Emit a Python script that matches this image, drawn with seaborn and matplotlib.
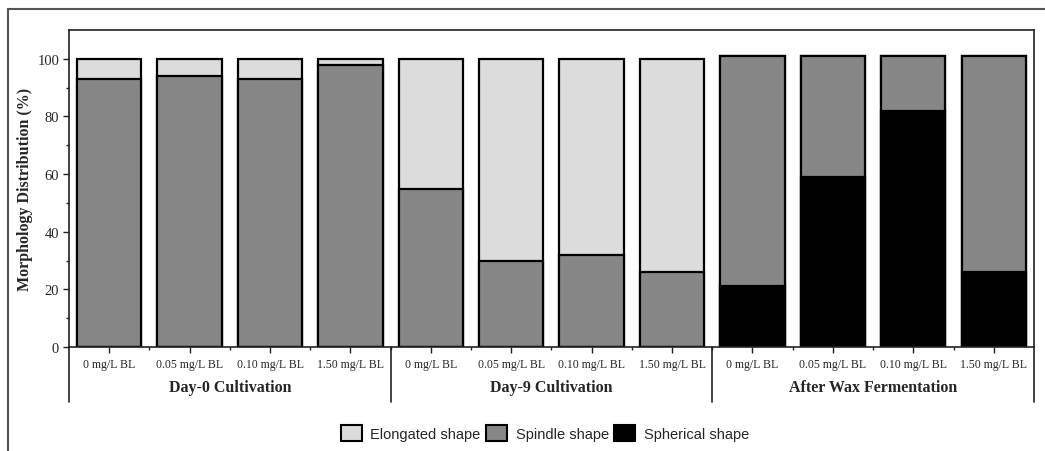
import numpy as np
import pandas as pd
import seaborn as sns
import matplotlib.pyplot as plt
import matplotlib.transforms as mtransforms
from matplotlib.patches import Patch
from matplotlib.lines import Line2D

# ---- data -------------------------------------------------------------
groups = ["Day-0 Cultivation", "Day-9 Cultivation", "After Wax Fermentation"]
doses = ["0 mg/L BL", "0.05 mg/L BL", "0.10 mg/L BL", "1.50 mg/L BL"]
elongated = [7, 6, 7, 2, 45, 70, 68, 74, 0, 0, 0, 0]
spindle = [93, 94, 93, 98, 55, 30, 32, 26, 80, 42, 19, 75]
spherical = [0, 0, 0, 0, 0, 0, 0, 0, 21, 59, 82, 26]
shape_names = ["Elongated shape", "Spindle shape", "Spherical shape"]
shape_colors = ["#dcdcdc", "#868686", "#000000"]

# ---- style ------------------------------------------------------------
sns.set_theme(style="ticks")
plt.rcParams["font.family"] = ["Liberation Serif", "DejaVu Serif"]

fig = plt.figure(figsize=(10.45, 4.52), dpi=100)
ax = fig.add_axes([0.066, 0.2301, 0.9234, 0.7013])

n = len(elongated)
idx = np.arange(n)
el = np.array(elongated)
sp = np.array(spindle)
sh = np.array(spherical)

df = pd.DataFrame({
    "pos": idx,
    "top": el + sp + sh,
    "mid": sp + sh,
    "low": sh,
})

# stacked bars: draw cumulative heights from the top layer down
for col, color in zip(["top", "mid", "low"], shape_colors):
    sns.barplot(data=df, x="pos", y=col, color=color, saturation=1,
                edgecolor="black", linewidth=1.6, width=0.8, ax=ax)

ax.set_xlim(-0.5, n - 0.5)
ax.set_ylim(0, 110)
ax.set_xlabel("")
ax.set_ylabel("Morphology Distribution (%)", fontsize=11.5,
              fontweight="bold")
ax.yaxis.set_label_coords(-0.0373, 0.5)

ax.set_xticks(idx, doses * len(groups), fontsize=8.5)
ax.set_xticks(np.arange(0.5, n - 1, 1.0), minor=True)
ax.set_yticks(np.arange(0, 101, 20))
ax.set_yticks(np.arange(10, 100, 20), minor=True)
ax.tick_params(axis="y", labelsize=10.5, direction="out", length=4,
               width=1, color="#222222", pad=3)
ax.tick_params(axis="y", which="minor", length=2.5, width=1,
               color="#222222")
ax.tick_params(axis="x", direction="out", length=4, width=1,
               color="#222222", pad=4)
ax.tick_params(axis="x", which="minor", length=2, width=1,
               color="#222222")

for s in ax.spines.values():
    s.set_visible(True)
    s.set_color("#222222")
    s.set_linewidth(1.2)

# group brackets below the axis
blend = mtransforms.blended_transform_factory(ax.transData, ax.transAxes)
for xb in [-0.5, 3.5, 7.5, n - 0.5]:
    ax.plot([xb, xb], [0, -0.1735], transform=blend, color="#222222",
            lw=1.2, clip_on=False)
for g, name in enumerate(groups):
    ax.text(g * 4 + 1.5, -0.126, name, transform=blend, ha="center",
            va="center", fontsize=11.5, fontweight="bold")

# legend
handles = [Patch(facecolor=c, edgecolor="black", linewidth=1.5)
           for c in shape_colors]
fig.legend(handles, shape_names, loc="center",
           bbox_to_anchor=(545 / 1045, 1 - 434 / 452), ncol=3,
           frameon=False, handlelength=1.4, handleheight=1.4,
           handletextpad=0.6, columnspacing=0.4,
           prop={"family": "Liberation Sans", "size": 10.5})

# outer frame lines
fx = 8 / 1045
fy = 1 - 10 / 452
fig.add_artist(Line2D([fx, fx], [0, fy], transform=fig.transFigure,
                      color="#555555", lw=1.5))
fig.add_artist(Line2D([fx, 1], [fy, fy], transform=fig.transFigure,
                      color="#555555", lw=1.5))

fig.savefig("out.png", dpi=100)
